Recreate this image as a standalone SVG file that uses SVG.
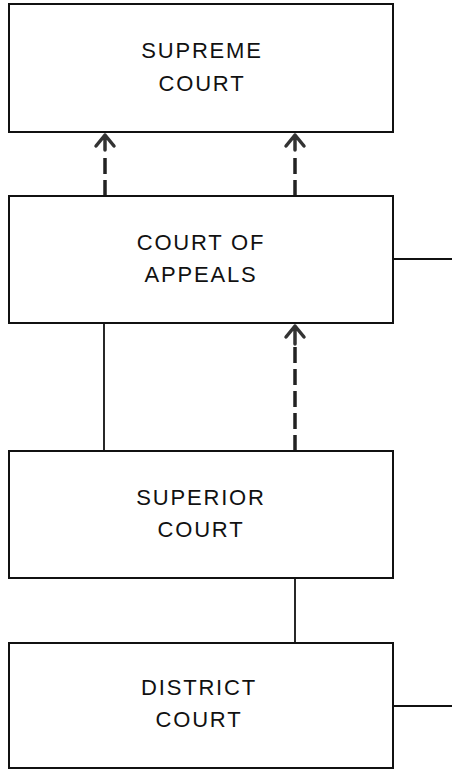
<svg xmlns="http://www.w3.org/2000/svg" width="452" height="770" viewBox="0 0 452 770">
<style>
.box{fill:#fff;stroke:#111;stroke-width:2}
.t{font-family:"Liberation Sans",Arial,sans-serif;font-size:22px;letter-spacing:1.8px;fill:#111;text-anchor:middle}
.ln{stroke:#111;stroke-width:1.8;fill:none}
.dash{stroke:#222;stroke-width:3.5;fill:none;stroke-dasharray:16 6}
.head{stroke:#333;stroke-width:3.5;fill:none;stroke-linecap:round;stroke-linejoin:round}
</style>
<rect width="452" height="770" fill="#fff"/>
<g id="connectors">
<line class="ln" x1="104" y1="323" x2="104" y2="451"/>
<line class="ln" x1="295" y1="578" x2="295" y2="643"/>
<line class="ln" x1="393" y1="259" x2="452" y2="259"/>
<line class="ln" x1="393" y1="706" x2="452" y2="706"/>
<line class="dash" x1="105" y1="196" x2="105" y2="152"/>
<line class="dash" x1="295" y1="196" x2="295" y2="152"/>
<line class="dash" x1="295" y1="451" x2="295" y2="346"/>
<path class="head" d="M96 146 L105 135 L114 146 M105 135 L105 150"/>
<path class="head" d="M286 146 L295 135 L304 146 M295 135 L295 150"/>
<path class="head" d="M286 337 L295 326 L304 337 M295 326 L295 344"/>
</g>
<g id="supreme">
<rect class="box" x="9" y="4" width="384" height="128"/>
<text class="t" x="202" y="58">SUPREME</text>
<text class="t" x="202" y="91">COURT</text>
</g>
<g id="appeals">
<rect class="box" x="9" y="196" width="384" height="127"/>
<text class="t" x="201" y="250">COURT OF</text>
<text class="t" x="201" y="282">APPEALS</text>
</g>
<g id="superior">
<rect class="box" x="9" y="451" width="384" height="127"/>
<text class="t" x="201" y="505">SUPERIOR</text>
<text class="t" x="201" y="537">COURT</text>
</g>
<g id="district">
<rect class="box" x="9" y="643" width="384" height="125"/>
<text class="t" x="199" y="695">DISTRICT</text>
<text class="t" x="199" y="727">COURT</text>
</g>
</svg>
